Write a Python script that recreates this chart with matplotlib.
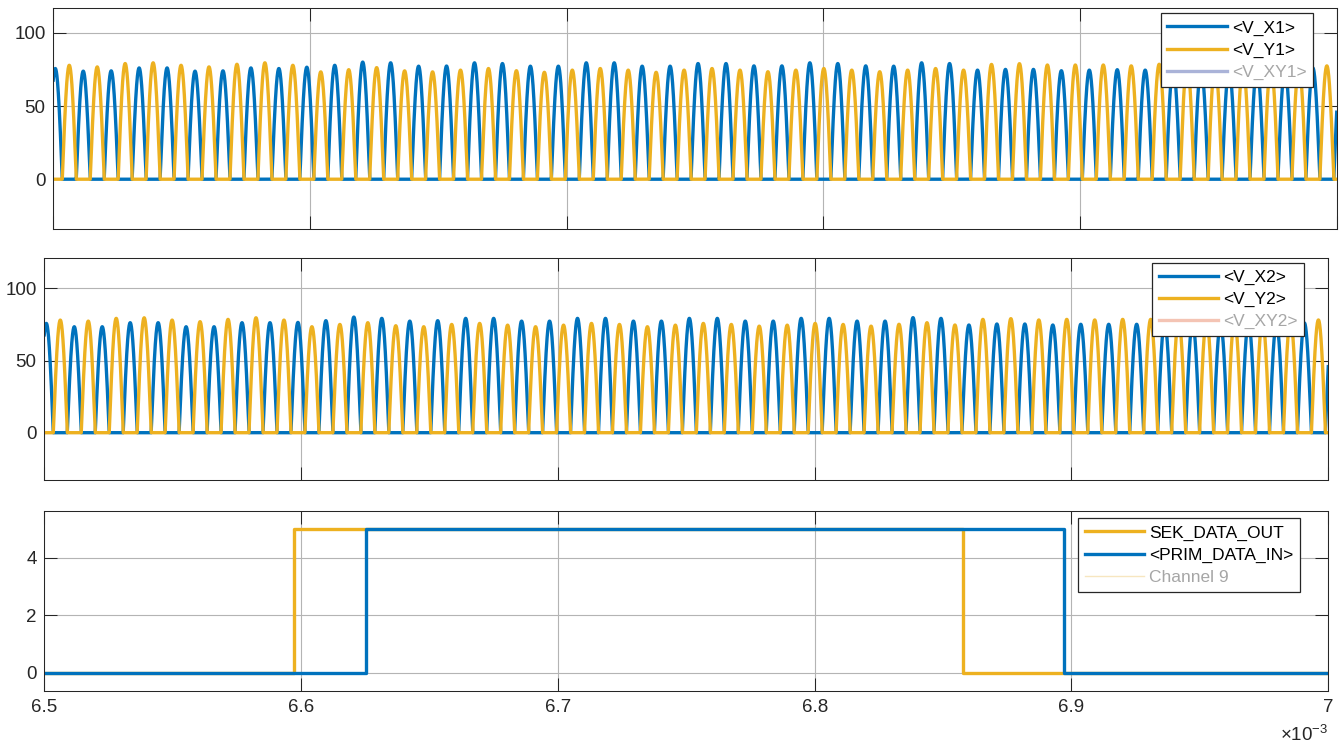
import numpy as np
import matplotlib
matplotlib.use('Agg')
import matplotlib.pyplot as plt

plt.rcParams['font.family'] = ['Liberation Sans', 'DejaVu Sans']
plt.rcParams['mathtext.fontset'] = 'custom'
plt.rcParams['mathtext.rm'] = 'Liberation Sans'

# time axis in ms (shown with x10^-3 multiplier)
x_ticks = [6.5, 6.6, 6.7, 6.8, 6.9, 7.0]
x_tick_labels = ['6.5', '6.6', '6.7', '6.8', '6.9', '7']

# first blue pulse centre and pulse repetition period (ms)
pulse_t0 = 6.5008
pulse_period = 0.010887

# peak values of each rectified half wave, panel 1
peaks_x1 = [75.6, 73.8, 74.0, 76.0, 76.0, 73.8, 74.0, 76.0, 75.6, 76.5,
            77.8, 80.0, 79.5, 77.2, 77.3, 79.5, 79.0, 77.2, 77.2, 79.5,
            79.5, 77.2, 77.2, 79.0, 79.0, 77.4, 77.4, 79.5, 79.0, 77.4,
            77.2, 79.5, 79.0, 74.5, 75.0, 75.0, 74.1, 74.5, 74.8, 74.5,
            76.0, 76.0, 75.0, 76.0, 75.0, 76.0, 76.0]
peaks_y1 = [77.8, 76.7, 79.0, 79.5, 77.8, 76.7, 78.5, 79.5, 77.8, 73.3,
            74.8, 76.2, 74.0, 73.3, 74.5, 75.6, 74.1, 73.0, 74.5, 75.6,
            74.5, 73.0, 74.5, 75.6, 74.5, 73.4, 74.5, 75.6, 74.5, 73.4,
            74.5, 75.6, 74.5, 78.4, 78.9, 78.0, 78.0, 78.0, 77.4, 78.5,
            78.5, 78.0, 77.5, 78.0, 77.5, 77.4]

# panel 2
peaks_x2 = [75.7, 73.4, 73.4, 76.2, 76.2, 73.4, 73.4, 76.2, 76.2, 76.4,
            77.6, 80.1, 79.2, 77.3, 77.6, 79.2, 79.2, 77.3, 77.3, 79.2,
            79.2, 77.3, 77.3, 79.2, 79.2, 77.3, 77.3, 79.2, 79.2, 77.3,
            77.3, 79.7, 79.2, 74.6, 75.3, 75.3, 74.6, 75.1, 75.1, 75.1,
            76.0, 76.0, 75.0, 76.0, 75.0, 76.0, 76.0]
peaks_y2 = [78.0, 77.3, 79.2, 79.6, 78.0, 76.9, 78.5, 79.6, 78.0, 73.4,
            75.0, 76.2, 74.1, 73.4, 75.0, 75.7, 74.5, 73.4, 74.5, 75.7,
            75.0, 73.4, 74.5, 75.7, 75.0, 73.8, 74.5, 75.7, 75.0, 73.8,
            75.1, 76.2, 74.6, 78.5, 79.0, 78.1, 78.5, 78.1, 78.5, 78.5,
            78.0, 77.5, 78.0, 77.5, 78.0, 78.1]

# digital data lines, panel 3: (time, level) step points
sek_t = [6.5, 6.5972, 6.8578, 7.0]
sek_v = [0, 5, 0, 0]
prim_t = [6.5, 6.6254, 6.8972, 7.0]
prim_v = [0, 5, 0, 0]

c_blue = '#0072BD'
c_yellow = '#EDB120'
c_dark = '#262626'
c_grid = '#b4b4b4'
c_faded_text = '#a6a6a6'


def pulse_train(t, start, period, peaks):
    y = np.zeros_like(t)
    for k, a in enumerate(peaks):
        c = start + k * period
        m = np.abs(t - c) <= period / 4
        y[m] = a * np.cos(np.pi * (t[m] - c) / (period / 2))
    return y


def style_axes(ax, yticks, ylim, show_xlabels=False):
    ax.set_xlim(6.5, 7.0)
    ax.set_ylim(*ylim)
    ax.set_xticks(x_ticks)
    ax.set_xticklabels(x_tick_labels if show_xlabels else [])
    ax.set_yticks(yticks)
    ax.tick_params(direction='in', length=9.4, width=0.75, colors=c_dark,
                   top=True, right=True, labelsize=13.5, pad=6)
    ax.tick_params(axis='y', pad=5.5)
    for s in ax.spines.values():
        s.set_color(c_dark)
        s.set_linewidth(0.75)
    ax.grid(True, color=c_grid, linewidth=0.8)
    ax.set_axisbelow(True)


def add_legend(ax, fig, anchor, labels_faded):
    leg = ax.legend(loc='upper right', bbox_to_anchor=anchor,
                    bbox_transform=fig.transFigure, borderaxespad=0,
                    fancybox=False, framealpha=1, edgecolor=c_dark,
                    prop={'family': 'Liberation Sans', 'size': 12.5},
                    handlelength=3.4, handletextpad=0.3,
                    labelspacing=0.4, borderpad=0.4)
    leg.get_frame().set_linewidth(0.9)
    for txt, faded in zip(leg.get_texts(), labels_faded):
        txt.set_color(c_faded_text if faded else 'black')
    return leg


t = np.linspace(6.5, 7.0, 20001)

fig = plt.figure(figsize=(13.41, 7.44), dpi=100)
ax1 = fig.add_axes([0.0397, 0.6922, 0.9571, 0.2966])
ax2 = fig.add_axes([0.0330, 0.3548, 0.9575, 0.2980])
ax3 = fig.add_axes([0.0330, 0.0716, 0.9575, 0.2419])

lw = 2.4

# panel 1
ax1.plot(t, pulse_train(t, pulse_t0, pulse_period, peaks_x1), color=c_blue, lw=lw, label='<V_X1>')
ax1.plot(t, pulse_train(t, pulse_t0 + pulse_period / 2, pulse_period, peaks_y1), color=c_yellow, lw=lw, label='<V_Y1>')
ax1.plot([], [], color='#aab3d8', lw=lw, label='<V_XY1>')
style_axes(ax1, [0, 50, 100], (-34, 116.7))
add_legend(ax1, fig, (1313.3 / 1341, (744 - 13.3) / 744), [False, False, True])

# panel 2
ax2.plot(t, pulse_train(t, pulse_t0, pulse_period, peaks_x2), color=c_blue, lw=lw, label='<V_X2>')
ax2.plot(t, pulse_train(t, pulse_t0 + pulse_period / 2, pulse_period, peaks_y2), color=c_yellow, lw=lw, label='<V_Y2>')
ax2.plot([], [], color='#f4c4b4', lw=lw, label='<V_XY2>')
style_axes(ax2, [0, 50, 100], (-32.8, 120.8))
add_legend(ax2, fig, (1304.3 / 1341, (744 - 262.7) / 744), [False, False, True])

# panel 3
ax3.plot(sek_t, sek_v, drawstyle='steps-post', color=c_yellow, lw=lw, label='SEK_DATA_OUT')
ax3.plot(prim_t, prim_v, drawstyle='steps-post', color=c_blue, lw=lw, label='<PRIM_DATA_IN>')
ax3.plot([], [], color='#f7e6c0', lw=1.0, label='Channel 9')
style_axes(ax3, [0, 2, 4], (-0.625, 5.625), show_xlabels=True)
add_legend(ax3, fig, (1300 / 1341, (744 - 518.3) / 744), [False, False, True])

fig.text(1328 / 1341, (744 - 735) / 744, r'$\times10^{-3}$', ha='right', va='center',
         fontsize=13.5, color=c_dark)

plt.savefig('out.png', dpi=100)
